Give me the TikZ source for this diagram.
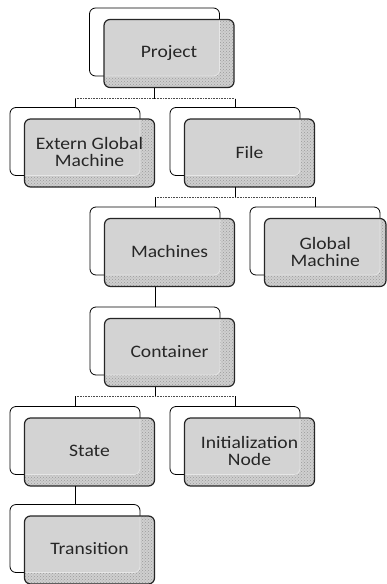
\documentclass[tikz,border=0pt]{standalone}
\usepackage{fontspec}
\setmainfont{Carlito}[FakeStretch=1.12]
\usetikzlibrary{patterns,calc}
\definecolor{overlapgray}{HTML}{D3D3D3}
\definecolor{stipplebase}{HTML}{CFCFCF}
\definecolor{stippledot}{HTML}{9A9A9A}
\definecolor{ghostline}{HTML}{E6E6E6}
\definecolor{textgray}{HTML}{262626}
\tikzset{
  backbox/.style={draw=black, line width=0.8pt, fill=white, rounded corners=6pt,
    minimum width=130pt, minimum height=68pt, anchor=north west, inner sep=0pt, outer sep=0pt},
  frontbox/.style={draw=black!85, line width=1.2pt, rounded corners=6pt,
    minimum width=130pt, minimum height=68pt, anchor=north west, inner sep=0pt, outer sep=0pt,
    preaction={fill=stipplebase}, pattern=crosshatch dots, pattern color=stippledot},
  boxlabel/.style={font=\fontsize{17.5}{17}\selectfont, align=center, text=textgray, inner sep=0pt},
  vline/.style={draw=black, line width=0.9pt},
  hline/.style={draw=black!70, line width=0.6pt, densely dotted}
}
\newcommand\unitbox[5]{% name, x, y, front width, text
  \node[backbox] (#1B) at (#2,-#3) {};
  \node[frontbox, minimum width=#4pt, path picture={
      \fill[overlapgray, rounded corners=6pt] (#1B.north west) rectangle (#1B.south east);
      \draw[ghostline, line width=0.7pt, rounded corners=6pt] (#1B.north west) rectangle (#1B.south east);
    }] (#1) at ($(#1B.north west)+(14.5,-11.5)$) {};
  \node[boxlabel] (#1T) at ($(#1.center)+(0,1)$) {#5};
}
\begin{document}
\begin{tikzpicture}[x=1pt,y=1pt]
\useasboundingbox[fill=white] (0,0) rectangle (386,-584);
\unitbox{proj}{89.5}{8}{130}{Project}
\unitbox{ext}{10}{107.5}{130}{Extern Global\\Machine}
\unitbox{file}{170}{107.5}{130}{File}
\unitbox{mach}{90}{207}{130}{Machines}
\unitbox{glob}{250}{207}{121.5}{Global\\Machine}
\unitbox{cont}{90}{307}{130}{Container}
\unitbox{state}{10}{406.5}{130}{State}
\unitbox{init}{170}{406.5}{130}{Initialization\\Node}
\unitbox{trans}{10}{504.5}{130}{Transition}
% connectors
\coordinate (j1) at (0,-98.5);
\coordinate (j2) at (0,-197);
\coordinate (j3) at (0,-396);
\draw[vline] (proj.south -| projB.south) -- (j1 -| projB.south);
\draw[hline] (j1 -| extB.north) -- (j1 -| fileB.north);
\draw[vline] (j1 -| extB.north) -- (extB.north);
\draw[vline] (j1 -| fileB.north) -- (fileB.north);
\draw[vline] (file.south -| fileB.south) -- (j2 -| fileB.south);
\draw[hline] (j2 -| machB.north) -- (j2 -| globB.north);
\draw[vline] (j2 -| machB.north) -- (machB.north);
\draw[vline] (j2 -| globB.north) -- (globB.north);
\draw[vline] (mach.south -| machB.south) -- (contB.north);
\draw[vline] (cont.south -| contB.south) -- (j3 -| contB.south);
\draw[hline] (j3 -| stateB.north) -- (j3 -| initB.north);
\draw[vline] (j3 -| stateB.north) -- (stateB.north);
\draw[vline] (j3 -| initB.north) -- (initB.north);
\draw[vline] (state.south -| stateB.south) -- (transB.north);
\end{tikzpicture}
\end{document}
